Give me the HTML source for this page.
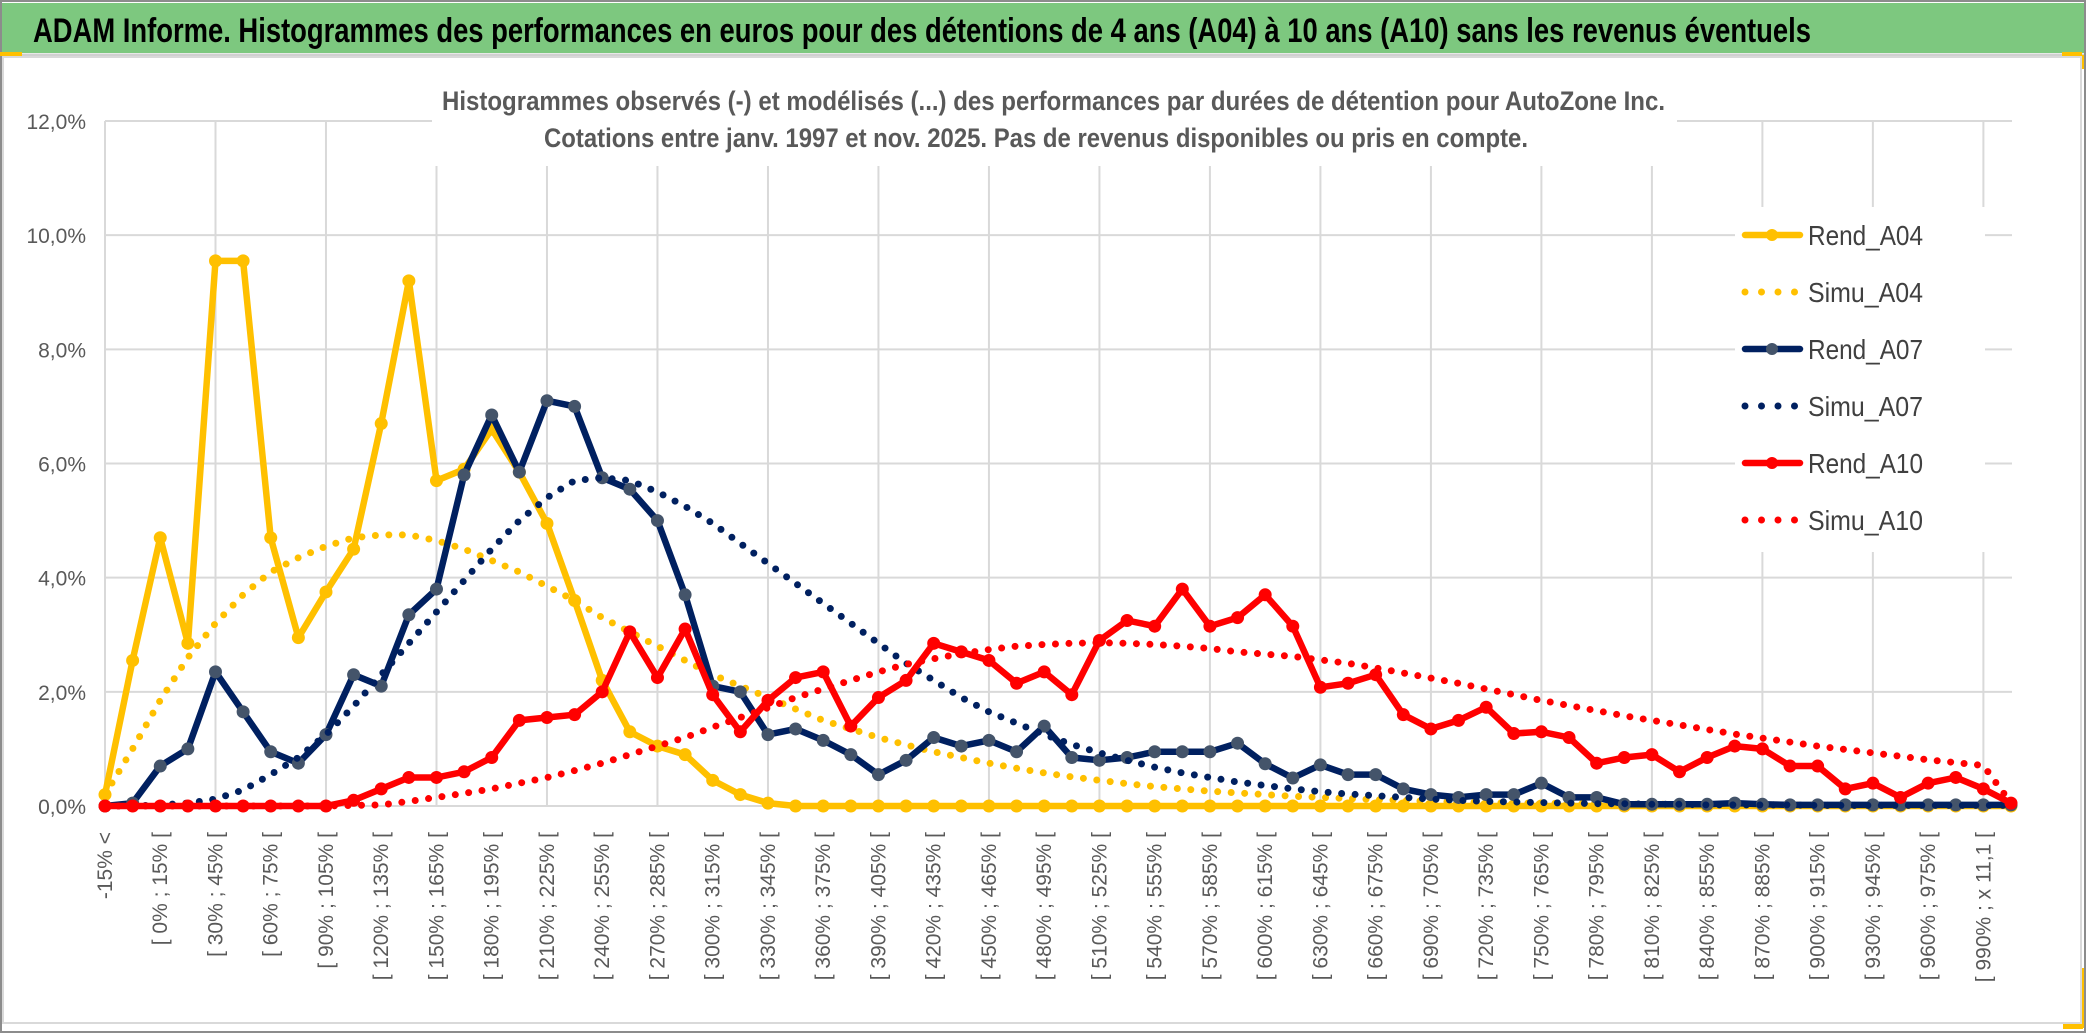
<!DOCTYPE html>
<html><head><meta charset="utf-8"><style>
html,body{margin:0;padding:0;background:#fff;}
svg{display:block;}
</style></head><body>
<svg id="chart" width="2086" height="1033" viewBox="0 0 2086 1033" xmlns="http://www.w3.org/2000/svg" font-family="'Liberation Sans', sans-serif">
  <rect x="0" y="0" width="2086" height="1033" fill="#ffffff"/>
  <rect x="1" y="1" width="2084" height="1031" fill="none" stroke="#8c8c8c" stroke-width="2"/>
  <rect x="2" y="3" width="2082" height="50" fill="#7DC87F"/>
  <line x1="2" y1="55" x2="2084" y2="55" stroke="#d0d0d0" stroke-width="3"/>
  <rect x="0" y="52" width="22" height="4" fill="#FFC000"/>
  <rect x="2062" y="52" width="20" height="4" fill="#FFC000"/>
  <rect x="2081" y="55" width="3" height="14" fill="#FFC000"/>
  <rect x="2080" y="968" width="4" height="60" fill="#FFC000"/>
  <rect x="2063" y="1024" width="20" height="5" fill="#FFC000"/>
  <rect x="3" y="57" width="2078" height="966" fill="none" stroke="#d9d9d9" stroke-width="2"/>
  <text x="33" y="42" font-size="34" font-weight="bold" fill="#000" textLength="1778" lengthAdjust="spacingAndGlyphs">ADAM Informe. Histogrammes des performances en euros pour des détentions de 4 ans (A04) à 10 ans (A10) sans les revenus éventuels</text>
  <g id="grid"></g>
  <rect x="432" y="78" width="1245" height="88" fill="#ffffff"/>
  <text x="442" y="110" font-size="27" font-weight="bold" fill="#595959" textLength="1223" lengthAdjust="spacingAndGlyphs">Histogrammes observés (-) et modélisés (...) des performances par durées de détention pour AutoZone Inc.</text>
  <text x="544" y="147" font-size="27" font-weight="bold" fill="#595959" textLength="984" lengthAdjust="spacingAndGlyphs">Cotations entre janv. 1997 et nov. 2025. Pas de revenus disponibles ou pris en compte.</text>
  <rect x="1735" y="207" width="250" height="345" fill="#ffffff"/>
  <g id="series"></g>
  <g id="axes"></g>
  <g id="legend"></g>
</svg>
<script>
const categories = ["-15% <","[ -15% ; 0% [","[ 0% ; 15% [","[ 15% ; 30% [","[ 30% ; 45% [","[ 45% ; 60% [","[ 60% ; 75% [","[ 75% ; 90% [","[ 90% ; 105% [","[ 105% ; 120% [","[ 120% ; 135% [","[ 135% ; 150% [","[ 150% ; 165% [","[ 165% ; 180% [","[ 180% ; 195% [","[ 195% ; 210% [","[ 210% ; 225% [","[ 225% ; 240% [","[ 240% ; 255% [","[ 255% ; 270% [","[ 270% ; 285% [","[ 285% ; 300% [","[ 300% ; 315% [","[ 315% ; 330% [","[ 330% ; 345% [","[ 345% ; 360% [","[ 360% ; 375% [","[ 375% ; 390% [","[ 390% ; 405% [","[ 405% ; 420% [","[ 420% ; 435% [","[ 435% ; 450% [","[ 450% ; 465% [","[ 465% ; 480% [","[ 480% ; 495% [","[ 495% ; 510% [","[ 510% ; 525% [","[ 525% ; 540% [","[ 540% ; 555% [","[ 555% ; 570% [","[ 570% ; 585% [","[ 585% ; 600% [","[ 600% ; 615% [","[ 615% ; 630% [","[ 630% ; 645% [","[ 645% ; 660% [","[ 660% ; 675% [","[ 675% ; 690% [","[ 690% ; 705% [","[ 705% ; 720% [","[ 720% ; 735% [","[ 735% ; 750% [","[ 750% ; 765% [","[ 765% ; 780% [","[ 780% ; 795% [","[ 795% ; 810% [","[ 810% ; 825% [","[ 825% ; 840% [","[ 840% ; 855% [","[ 855% ; 870% [","[ 870% ; 885% [","[ 885% ; 900% [","[ 900% ; 915% [","[ 915% ; 930% [","[ 930% ; 945% [","[ 945% ; 960% [","[ 960% ; 975% [","[ 975% ; 990% [","[ 990% ; x 11,1 [","x 11,1 <"];
const rendA04 = [0.2,2.55,4.7,2.85,9.55,9.55,4.7,2.95,3.75,4.5,6.7,9.2,5.7,5.9,6.6,5.85,4.95,3.6,2.2,1.3,1.05,0.9,0.45,0.2,0.05,0,0,0,0,0,0,0,0,0,0,0,0,0,0,0,0,0,0,0,0,0,0,0,0,0,0,0,0,0,0,0,0,0,0,0,0,0,0,0,0,0,0,0,0,0];
const simuA04 = [0.2,1.0,1.85,2.6,3.2,3.7,4.1,4.35,4.55,4.7,4.75,4.75,4.65,4.5,4.3,4.1,3.85,3.6,3.3,3.05,2.8,2.55,2.3,2.1,1.9,1.7,1.5,1.35,1.2,1.07,0.95,0.85,0.75,0.66,0.58,0.51,0.45,0.39,0.34,0.3,0.26,0.23,0.2,0.17,0.15,0.13,0.11,0.1,0.08,0.07,0.06,0.05,0.05,0.04,0.04,0.03,0.03,0.03,0.02,0.02,0.02,0.02,0.01,0.01,0.01,0.01,0.01,0.01,0.01,0.01];
const rendA07 = [0,0.05,0.7,1.0,2.35,1.65,0.95,0.75,1.25,2.3,2.1,3.35,3.8,5.8,6.85,5.85,7.1,7.0,5.75,5.55,5.0,3.7,2.1,2.0,1.25,1.35,1.15,0.9,0.55,0.8,1.2,1.05,1.15,0.95,1.4,0.85,0.8,0.85,0.95,0.95,0.95,1.1,0.74,0.49,0.72,0.55,0.55,0.3,0.2,0.15,0.2,0.2,0.4,0.15,0.15,0.03,0.03,0.03,0.03,0.05,0.03,0.02,0.02,0.02,0.02,0.02,0.02,0.02,0.02,0.02];
const simuA07 = [0,0,0.02,0.05,0.12,0.28,0.55,0.85,1.25,1.75,2.3,2.85,3.4,3.95,4.5,5.0,5.4,5.7,5.75,5.7,5.5,5.25,4.95,4.6,4.25,3.9,3.55,3.2,2.85,2.5,2.2,1.9,1.65,1.45,1.25,1.08,0.93,0.8,0.68,0.58,0.5,0.42,0.36,0.3,0.25,0.21,0.18,0.15,0.12,0.1,0.08,0.07,0.06,0.05,0.04,0.04,0.03,0.03,0.02,0.02,0.02,0.02,0.01,0.01,0.01,0.01,0.01,0.01,0.01,0.01];
const rendA10 = [0,0,0,0,0,0,0,0,0,0.1,0.3,0.5,0.5,0.6,0.85,1.5,1.55,1.6,2.0,3.05,2.25,3.1,1.95,1.3,1.85,2.25,2.35,1.4,1.9,2.2,2.85,2.7,2.55,2.15,2.35,1.95,2.9,3.25,3.15,3.8,3.15,3.3,3.7,3.15,2.08,2.15,2.3,1.6,1.35,1.5,1.73,1.27,1.3,1.2,0.75,0.85,0.9,0.6,0.85,1.05,1.0,0.7,0.7,0.3,0.4,0.15,0.4,0.5,0.3,0.05];
const simuA10 = [0,0,0,0,0,0,0,0,0,0.01,0.02,0.08,0.15,0.22,0.3,0.4,0.5,0.62,0.75,0.9,1.05,1.2,1.38,1.55,1.72,1.9,2.05,2.2,2.35,2.48,2.58,2.67,2.74,2.8,2.83,2.85,2.86,2.85,2.83,2.8,2.76,2.7,2.66,2.62,2.56,2.5,2.42,2.33,2.24,2.15,2.05,1.95,1.85,1.76,1.67,1.58,1.5,1.42,1.34,1.26,1.19,1.12,1.05,0.99,0.93,0.87,0.81,0.76,0.71,0.05];
const yTicks = [0,2,4,6,8,10,12];
const yTickLabels = ["0,0%","2,0%","4,0%","6,0%","8,0%","10,0%","12,0%"];
const legendLabels = ["Rend_A04","Simu_A04","Rend_A07","Simu_A07","Rend_A10","Simu_A10"];

const NS = "http://www.w3.org/2000/svg";
const X0 = 105, X1 = 2011, Y0 = 806, Y12 = 121;
function xPos(i){ return X0 + i*(X1-X0)/(categories.length-1); }
function yPos(v){ return Y0 - v*(Y0-Y12)/12; }
function mk(tag, attrs, parent){ const e=document.createElementNS(NS,tag); for(const k in attrs) e.setAttribute(k,attrs[k]); parent.appendChild(e); return e; }

const grid = document.getElementById('grid');
yTicks.forEach((t,k)=>{
  const l = mk('line',{x1:X0,x2:X1+1,y1:yPos(t),y2:yPos(t),stroke:'#d9d9d9','stroke-width':2},grid);
  
  
});
for(let i=0;i<categories.length;i+=4){
  const l = mk('line',{x1:xPos(i),x2:xPos(i),y1:Y12,y2:Y0,stroke:'#d9d9d9','stroke-width':2},grid);
  
  
}
const axes = document.getElementById('axes');
yTicks.forEach((t,k)=>{
  const tx = mk('text',{x:86,y:yPos(t)+8,'text-anchor':'end','font-size':21,fill:'#595959'},axes);
  tx.textContent = yTickLabels[k];
  
  
});
for(let i=0;i<categories.length;i+=2){
  const x = xPos(i)+7, y = 832;
  const tx = mk('text',{x:x,y:y,'text-anchor':'end','font-size':21,fill:'#595959',transform:`rotate(-90 ${x} ${y})`},axes);
  tx.textContent = categories[i];
  
  
}

const series = document.getElementById('series');
function pts(arr){ return arr.map((v,i)=>xPos(i).toFixed(1)+','+yPos(v).toFixed(1)).join(' '); }
function drawRend(arr,color,marker,name){
  const g = mk('g',{},series);
  
  
  mk('polyline',{points:pts(arr),fill:'none',stroke:color,'stroke-width':6.5,'stroke-linejoin':'round','stroke-linecap':'round'},g);
  arr.forEach((v,i)=>{
    const c = mk('circle',{cx:xPos(i),cy:yPos(v),r:6.5,fill:marker},g);
    
    
  });
}
function drawSimu(arr,color,name){
  const p = mk('polyline',{points:pts(arr),fill:'none',stroke:color,'stroke-width':7,'stroke-linecap':'round','stroke-linejoin':'round','stroke-dasharray':'0 13.5'},series);
  
  
}
drawRend(rendA04,'#FFC000','#FFC000','rend-a04-line');
drawSimu(simuA04,'#FFC000','simu-a04-line');
drawRend(rendA07,'#002060','#44546A','rend-a07-line');
drawSimu(simuA07,'#002060','simu-a07-line');
drawRend(rendA10,'#FF0000','#FF0000','rend-a10-line');
drawSimu(simuA10,'#FF0000','simu-a10-line');

const legend = document.getElementById('legend');
const legColors = ['#FFC000','#FFC000','#002060','#002060','#FF0000','#FF0000'];
const legMarkers = ['#FFC000',null,'#44546A',null,'#FF0000',null];
legendLabels.forEach((lab,k)=>{
  const y = 235 + k*57;
  const g = mk('g',{},legend);
  
  
  if(legMarkers[k]){
    mk('line',{x1:1745,x2:1800,y1:y,y2:y,stroke:legColors[k],'stroke-width':6.5,'stroke-linecap':'round'},g);
    mk('circle',{cx:1772,cy:y,r:6,fill:legMarkers[k]},g);
  } else {
    mk('line',{x1:1745,x2:1800,y1:y,y2:y,stroke:legColors[k],'stroke-width':7,'stroke-linecap':'round','stroke-dasharray':'0 16.5'},g);
  }
  const t = mk('text',{x:1808,y:y+10,'font-size':28,fill:'#404040',textLength:115,lengthAdjust:'spacingAndGlyphs'},g);
  t.textContent = lab;
});
</script>
</body></html>
